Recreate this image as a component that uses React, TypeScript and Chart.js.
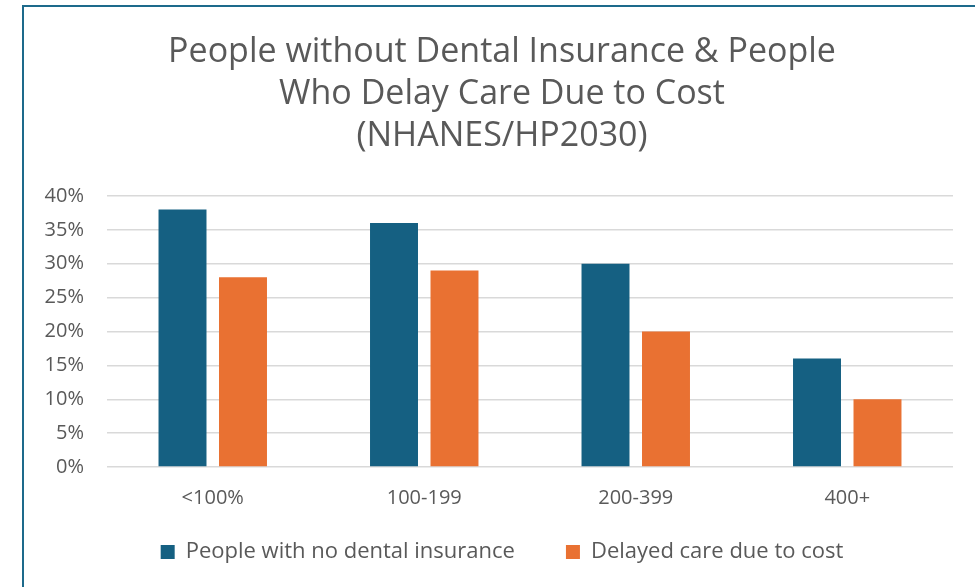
import React, { useEffect, useRef } from "react";
import { Chart, registerables } from "chart.js";

Chart.register(...registerables);

const categories = ["<100%", "100-199", "200-399", "400+"];
const noDentalInsurance = [38, 36, 30, 16];
const delayedCare = [28, 29, 20, 10];
const seriesLabels = ["People with no dental insurance", "Delayed care due to cost"];
const titleLines = [
  "People without Dental Insurance & People",
  "Who Delay Care Due to Cost",
  "(NHANES/HP2030)",
];
const yMin = 0;
const yMax = 40;
const yStep = 5;

const FONT = "'Open Sans', 'DejaVu Sans', sans-serif";
const TEXT = "#595959";
const BLUE = "#156082";
const ORANGE = "#E97132";

const legendShift = {
  id: "legendShift",
  afterLayout(chart: any) {
    const lg = chart.legend;
    if (!lg) return;
    const dy = 22;
    lg.top -= dy;
    lg.bottom -= dy;
  },
};

export default function App() {
  const ref = useRef<HTMLCanvasElement | null>(null);

  useEffect(() => {
    if (!ref.current) return;
    const chart = new Chart(ref.current, {
      type: "bar",
      data: {
        labels: categories,
        datasets: [
          {
            label: seriesLabels[0],
            data: noDentalInsurance,
            backgroundColor: BLUE,
            categoryPercentage: 0.572,
            barPercentage: 0.793,
          },
          {
            label: seriesLabels[1],
            data: delayedCare,
            backgroundColor: ORANGE,
            categoryPercentage: 0.572,
            barPercentage: 0.793,
          },
        ],
      },
      plugins: [legendShift],
      options: {
        animation: false,
        responsive: false,
        maintainAspectRatio: false,
        layout: { padding: { left: 0, right: 0, top: 0, bottom: 0 } },
        plugins: {
          title: {
            display: true,
            text: titleLines,
            color: TEXT,
            font: { family: FONT, size: 34, weight: "normal", lineHeight: 42 / 34 },
            padding: { top: 31, bottom: 39 },
          },
          legend: {
            position: "bottom",
            maxHeight: 75,
            labels: {
              boxWidth: 14,
              boxHeight: 14,
              color: TEXT,
              font: { family: FONT, size: 22 },
              padding: 51,
            },
          },
          tooltip: { enabled: false },
        },
        scales: {
          x: {
            grid: { display: false, drawTicks: false },
            border: { display: false },
            ticks: { color: TEXT, font: { family: FONT, size: 20 }, padding: 19 },
            afterFit: (s: any) => {
              s.height = 45;
            },
          },
          y: {
            min: yMin,
            max: yMax,
            ticks: {
              stepSize: yStep,
              color: TEXT,
              font: { family: FONT, size: 20 },
              padding: 23,
              callback: (v: any) => v + "%",
            },
            grid: { color: "#d9d9d9", lineWidth: 1.5, drawTicks: false },
            border: { display: false },
            afterFit: (s: any) => {
              s.width = 107;
            },
          },
          yR: {
            position: "right",
            display: true,
            grid: { display: false, drawTicks: false },
            ticks: { display: false },
            border: { display: false },
            afterFit: (s: any) => {
              s.width = 51;
            },
          },
        },
      } as any,
    });
    return () => chart.destroy();
  }, []);

  return (
    <div
      style={{
        position: "fixed",
        left: 0,
        top: 0,
        width: 975,
        height: 587,
        overflow: "hidden",
        background: "#ffffff",
      }}
    >
      <div
        style={{
          position: "absolute",
          left: 22,
          top: 5,
          width: 1000,
          height: 700,
          border: "2px solid #1d6a8b",
          boxSizing: "border-box",
        }}
      />
      <canvas
        ref={ref}
        width={1004}
        height={587}
        style={{ position: "absolute", left: 0, top: 0, width: 1004, height: 587 }}
      />
    </div>
  );
}
